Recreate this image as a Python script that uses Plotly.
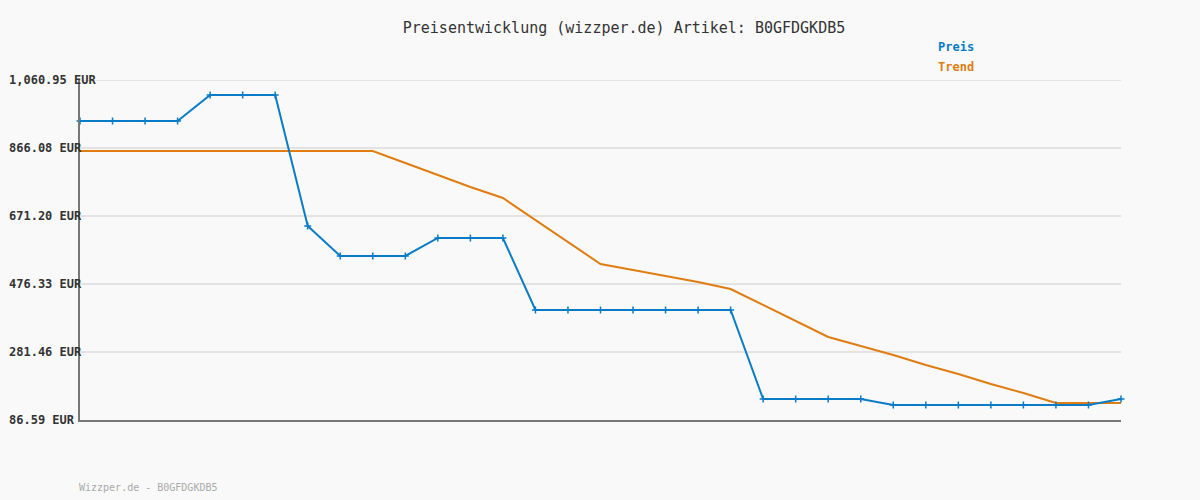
import plotly.graph_objects as go

idx = list(range(33))
preis = [943.4]*4 + [1018.0]*3 + [642.5] + [556.6]*3 + [608.2]*3 + [401.8]*7 + [146.8]*4 + [129.6]*7 + [146.8]
trend = [857.5]*10 + [823.1, 788.7, 754.3, 722.8, 659.7, 596.7, 533.6, 516.4, 499.3, 482.1,
         462.0, 416.1, 370.3, 324.4, 298.7, 272.9, 244.2, 218.4, 189.8, 164.0, 135.3, 135.3, 135.3]
tick_vals = [86.59, 281.46, 476.33, 671.20, 866.08, 1060.95]
tick_text = ["86.59 EUR", "281.46 EUR", "476.33 EUR", "671.20 EUR", "866.08 EUR", "1,060.95 EUR"]

BLUE = "#0a7bc6"
ORANGE = "#e07d10"
MONO = "DejaVu Sans Mono, Liberation Mono, monospace"

L, R, T, B = 80, 79, 80, 80
W, H = 1200, 500
pw, ph = W - L - R, H - T - B


def px_x(px):
    return (px - L) / pw


def px_y(py):
    return (H - B - py) / ph


fig = go.Figure()
fig.add_trace(go.Scatter(x=idx, y=trend, mode="lines", line=dict(color=ORANGE, width=2),
                         name="Trend", cliponaxis=False, hoverinfo="skip"))
fig.add_trace(go.Scatter(x=idx, y=preis, mode="lines+markers", line=dict(color=BLUE, width=2),
                         marker=dict(symbol="cross-thin", size=5, line=dict(color=BLUE, width=1.5)),
                         name="Preis", cliponaxis=False))

annotations = []
for v, t in zip(tick_vals, tick_text):
    annotations.append(dict(text="<b>%s</b>" % t, x=px_x(7), y=v, xref="paper", yref="y",
                            showarrow=False, xanchor="left", yanchor="middle",
                            font=dict(family=MONO, size=12, color="#333333")))
annotations += [
    dict(text="<b>Preis</b>", x=px_x(936), y=px_y(47), xref="paper", yref="paper", showarrow=False,
         font=dict(family=MONO, size=12, color=BLUE), xanchor="left", yanchor="middle"),
    dict(text="<b>Trend</b>", x=px_x(936), y=px_y(67), xref="paper", yref="paper", showarrow=False,
         font=dict(family=MONO, size=12, color=ORANGE), xanchor="left", yanchor="middle"),
    dict(text="Wizzper.de - B0GFDGKDB5", x=px_x(77), y=px_y(487), xref="paper", yref="paper", showarrow=False,
         font=dict(family=MONO, size=10, color="#aaaaaa"), xanchor="left", yanchor="middle"),
]

# gridline at the top tick (plotly omits grid at the range edge)
shapes = [dict(type="line", xref="paper", x0=0, x1=1, yref="y", y0=tick_vals[-1], y1=tick_vals[-1],
               line=dict(color="#e3e3e3", width=2), layer="below")]

fig.update_layout(
    width=W, height=H,
    margin=dict(l=L, r=R, t=T, b=B, autoexpand=False),
    paper_bgcolor="#f9f9f9", plot_bgcolor="#f9f9f9",
    showlegend=False,
    title=dict(text="Preisentwicklung (wizzper.de) Artikel: B0GFDGKDB5", x=624 / W, xanchor="center",
               y=1 - 28 / H, yanchor="middle", font=dict(family=MONO, size=15, color="#333333")),
    xaxis=dict(range=[0, 32], showticklabels=False, showgrid=False, zeroline=False,
               showline=True, linecolor="#777777", linewidth=2, ticks="", automargin=False),
    yaxis=dict(range=[86.59, 1060.95], tickvals=tick_vals, showticklabels=False,
               showgrid=True, gridcolor="#e3e3e3", gridwidth=2, zeroline=False,
               showline=True, linecolor="#777777", linewidth=2, ticks="", automargin=False),
    annotations=annotations,
    shapes=shapes,
)

fig.write_html("out.html", config={"displayModeBar": False},
               post_script="document.body.style.margin='0';document.body.style.background='#f9f9f9';")
